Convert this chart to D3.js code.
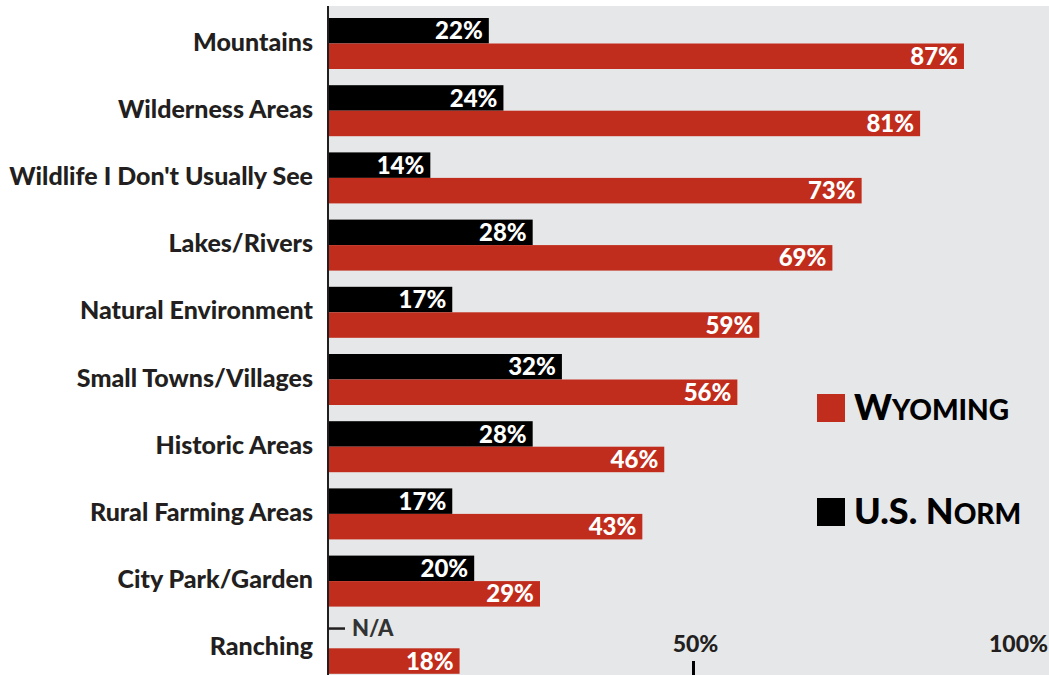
<!DOCTYPE html>
<html><head><meta charset="utf-8">
<script src="https://cdn.jsdelivr.net/npm/d3@7"></script>
<style>html,body{margin:0;padding:0;background:#fff;}svg{display:block;}</style>
</head><body>
<svg id="chart" width="1049" height="675"></svg>
<script>
const categories = ["Mountains","Wilderness Areas","Wildlife I Don't Usually See","Lakes/Rivers","Natural Environment","Small Towns/Villages","Historic Areas","Rural Farming Areas","City Park/Garden","Ranching"];
const wyoming = [87,81,73,69,59,56,46,43,29,18];
const usNorm = [22,24,14,28,17,32,28,17,20,null];
const series = ["us","wy"];
const seriesNames = {wy:"Wyoming", us:"U.S. Norm"};
const xTicks = [50,100];

const W = 1049, H = 675;
const RED = "#c12d1c", BLK = "#000000", BG = "#e6e7e8", TXT = "#231f20";
const FONT = "Lato, 'Open Sans', sans-serif";
const WGT = 900;

const svg = d3.select("#chart");
const x = d3.scaleLinear().domain([0,100]).range([328,1059]);
const y = d3.scaleBand().domain(categories).range([10,682]);
const ys = d3.scaleBand().domain(series).range([8,59]);
const color = d3.scaleOrdinal().domain(series).range([BLK,RED]);

svg.append("rect").attr("x",x(0)).attr("y",6).attr("width",W-x(0)).attr("height",H-6).attr("fill",BG);

const rows = categories.map((c,i)=>({cat:c, vals:[{k:"us",v:usNorm[i]},{k:"wy",v:wyoming[i]}]}));

const g = svg.selectAll("g.row").data(rows).join("g").attr("class","row")
  .attr("transform",d=>`translate(0,${y(d.cat)})`);

g.selectAll("rect").data(d=>d.vals.filter(v=>v.v!=null)).join("rect")
  .attr("x",x(0)).attr("y",d=>ys(d.k)).attr("width",d=>x(d.v)-x(0)).attr("height",ys.bandwidth())
  .attr("fill",d=>color(d.k));

g.selectAll("text.val").data(d=>d.vals.filter(v=>v.v!=null)).join("text").attr("class","val")
  .attr("x",d=>x(d.v)-6).attr("y",d=>ys(d.k)+ys.bandwidth()/2).attr("dy","0.36em")
  .attr("text-anchor","end").attr("fill","#fff").attr("font-family",FONT).attr("font-weight",WGT)
  .attr("font-size",24).text(d=>d.v+"%");

// N/A marks
g.each(function(d){
  d.vals.filter(v=>v.v==null).forEach(v=>{
    const cy = ys(v.k)+ys.bandwidth()/2-7;
    d3.select(this).append("line").attr("x1",x(0)).attr("x2",x(0)+17).attr("y1",cy).attr("y2",cy)
      .attr("stroke",TXT).attr("stroke-width",2.5);
    d3.select(this).append("text").attr("x",x(0)+24).attr("y",cy).attr("dy","0.36em")
      .attr("fill","#333").attr("font-family",FONT).attr("font-weight",WGT).attr("font-size",22).text("N/A");
  });
});

// category labels
svg.selectAll("text.cat").data(categories).join("text").attr("class","cat")
  .attr("x",313).attr("y",d=>y(d)+ys(series[1])-2).attr("dy","0.36em")
  .attr("text-anchor","end").attr("fill",TXT).attr("font-family",FONT).attr("font-weight",WGT)
  .attr("font-size",25).text(d=>d);

// y axis line
svg.append("line").attr("x1",x(0)).attr("x2",x(0)).attr("y1",6).attr("y2",H).attr("stroke",TXT).attr("stroke-width",2);

// x ticks
svg.selectAll("line.xt").data(xTicks).join("line").attr("class","xt")
  .attr("x1",d=>x(d)).attr("x2",d=>x(d)).attr("y1",661).attr("y2",H).attr("stroke",BLK).attr("stroke-width",3);
svg.selectAll("text.xt").data(xTicks).join("text").attr("class","xt")
  .attr("x",d=>Math.min(x(d)+2, W-1)).attr("y",652)
  .attr("text-anchor",d=>x(d)+30>W?"end":"middle").attr("fill",TXT).attr("font-family",FONT)
  .attr("font-weight",WGT).attr("font-size",23).text(d=>d+"%");

// legend
const legend = [{k:"wy",y:394},{k:"us",y:498}];
const lg = svg.selectAll("g.lg").data(legend).join("g").attr("class","lg")
  .attr("transform",d=>`translate(817,${d.y})`);
lg.append("rect").attr("width",28).attr("height",28).attr("fill",d=>color(d.k));
lg.append("text").attr("x",37).attr("y",26).attr("fill",BLK).attr("font-family",FONT).attr("font-weight",WGT)
  .each(function(d){
    const t = d3.select(this);
    const name = seriesNames[d.k];
    let buf = "", big = null;
    const flush = ()=>{ if(buf){ t.append("tspan").attr("font-size",big?36:28).text(big?buf:buf.toUpperCase()); buf=""; } };
    for(const ch of name){
      const isBig = ch !== ch.toLowerCase() || /[.\s]/.test(ch);
      if(big!==null && isBig!==big) flush();
      big = isBig; buf += ch;
    }
    flush();
  });
</script>
</body></html>
